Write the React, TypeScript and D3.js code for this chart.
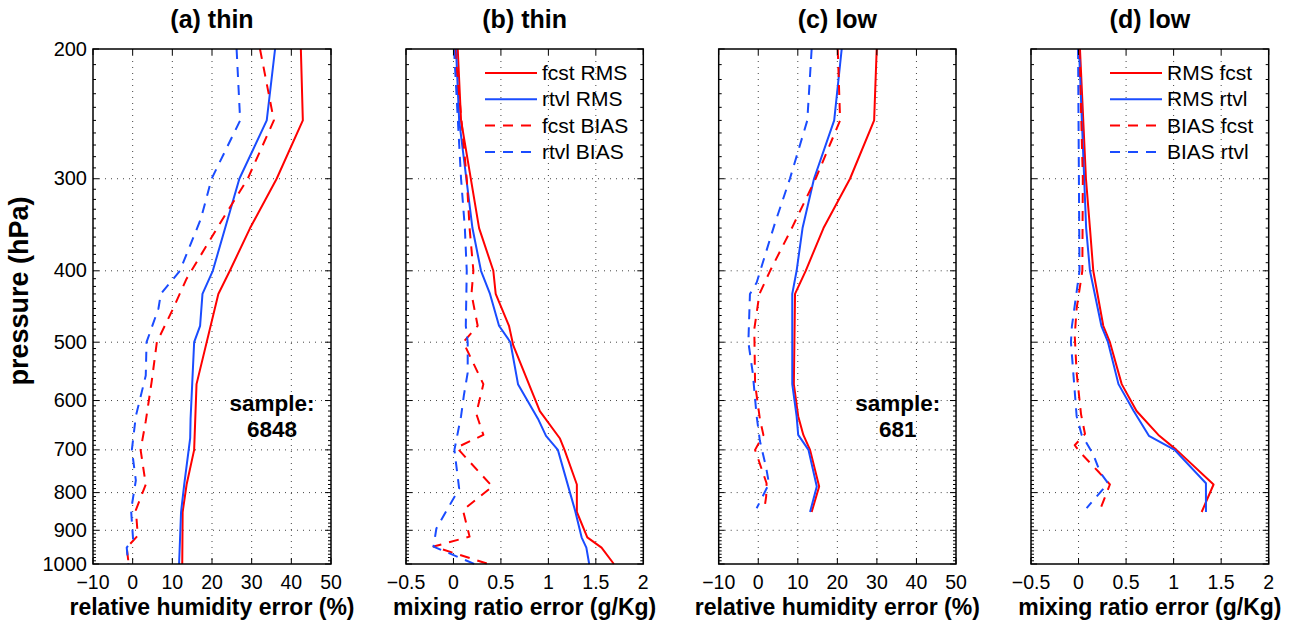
import React from "react";
import * as d3 from "d3";

type Pt = [number, number]; // [pressure hPa, value]

const pressureTicks = [200, 300, 400, 500, 600, 700, 800, 900, 1000];
const minorPressure = d3.range(210, 1000, 10).filter((p) => p % 100 !== 0);
const rhTicks = [-10, 0, 10, 20, 30, 40, 50];
const mrTicks = [-0.5, 0, 0.5, 1, 1.5, 2];
const titles = ["(a) thin", "(b) thin", "(c) low", "(d) low"];
const xLabels = [
  "relative humidity error (%)",
  "mixing ratio error (g/Kg)",
  "relative humidity error (%)",
  "mixing ratio error (g/Kg)",
];
const legendB = ["fcst RMS", "rtvl RMS", "fcst BIAS", "rtvl BIAS"];
const legendD = ["RMS fcst", "RMS rtvl", "BIAS fcst", "BIAS rtvl"];
const sampleA = "6848";
const sampleC = "681";

// (a) thin, relative humidity
const aFcstRms: Pt[] = [[200, 42.4], [250, 42.9], [300, 36.3], [350, 29.6], [400, 24.5], [430, 21.6], [570, 16.1], [700, 15.5], [780, 13.6], [850, 12.6], [1000, 12.5]];
const aRtvlRms: Pt[] = [[200, 35.9], [250, 33.8], [300, 26.9], [400, 20.2], [430, 17.6], [475, 17.0], [500, 15.5], [635, 14.6], [675, 14.5], [780, 13.0], [850, 12.2], [1000, 11.7]];
const aFcstBias: Pt[] = [[200, 32.1], [250, 35.6], [300, 29.0], [345, 22.0], [410, 13.6], [450, 10.2], [500, 6.1], [565, 4.8], [640, 3.3], [700, 2.0], [780, 3.3], [845, 0.8], [915, 1.3], [950, -1.5], [1000, -1.0]];
const aRtvlBias: Pt[] = [[200, 26.2], [250, 27.1], [300, 19.9], [340, 17.2], [400, 11.9], [430, 7.1], [450, 6.5], [500, 3.5], [555, 3.3], [630, 0.8], [700, -0.2], [770, 0.8], [845, -0.4], [925, 0.1], [950, -1.5], [1000, -1.1]];

// (b) thin, mixing ratio
const bFcstRms: Pt[] = [[200, 0.045], [250, 0.08], [350, 0.27], [400, 0.42], [430, 0.445], [475, 0.585], [505, 0.63], [620, 0.91], [675, 1.12], [700, 1.17], [780, 1.3], [850, 1.3], [920, 1.41], [950, 1.56], [1000, 1.69]];
const bRtvlRms: Pt[] = [[200, 0.027], [250, 0.06], [350, 0.2], [400, 0.29], [430, 0.385], [475, 0.48], [500, 0.6], [570, 0.68], [635, 0.89], [670, 0.975], [700, 1.1], [845, 1.28], [920, 1.35], [950, 1.4], [1000, 1.43]];
const bFcstBias: Pt[] = [[200, 0.016], [300, 0.14], [350, 0.17], [400, 0.21], [430, 0.19], [475, 0.255], [500, 0.104], [570, 0.315], [625, 0.24], [668, 0.315], [695, 0.034], [785, 0.41], [845, 0.1], [918, 0.17], [947, -0.21], [1000, 0.37]];
const bRtvlBias: Pt[] = [[200, 0.006], [300, 0.08], [350, 0.12], [400, 0.14], [475, 0.13], [500, 0.15], [550, 0.15], [590, 0.11], [630, 0.08], [700, 0.01], [790, 0.06], [895, -0.18], [947, -0.21], [1000, 0.22]];

// (c) low, relative humidity
const cFcstRms: Pt[] = [[200, 29.95], [250, 29.3], [300, 23.2], [350, 16.5], [400, 12.0], [430, 9.3], [570, 9.0], [630, 10.1], [668, 11.4], [700, 13.1], [785, 15.4], [850, 13.5]];
const cRtvlRms: Pt[] = [[200, 21.1], [250, 19.2], [300, 14.1], [350, 11.2], [400, 9.7], [430, 8.6], [570, 8.6], [630, 9.7], [668, 10.1], [700, 12.7], [785, 14.8], [850, 13.1]];
const cFcstBias: Pt[] = [[200, 20.1], [250, 20.7], [300, 14.5], [350, 8.5], [400, 3.0], [430, 0.3], [480, -1.0], [570, -0.8], [635, 0.4], [668, 1.3], [700, -0.8], [777, 2.1], [810, 2.0], [845, 1.5]];
const cRtvlBias: Pt[] = [[200, 13.5], [250, 12.4], [300, 8.0], [345, 4.2], [415, -0.4], [430, -2.1], [500, -2.5], [550, -1.4], [630, -0.4], [680, 0.4], [740, 2.0], [777, 2.7], [790, 2.1], [840, -0.4]];

// (d) low, mixing ratio
const dFcstRms: Pt[] = [[200, 0.015], [300, 0.078], [350, 0.12], [400, 0.155], [475, 0.26], [500, 0.33], [570, 0.454], [620, 0.61], [668, 0.84], [700, 1.03], [780, 1.42], [850, 1.295]];
const dRtvlRms: Pt[] = [[200, 0.005], [350, 0.08], [400, 0.12], [475, 0.24], [500, 0.31], [570, 0.42], [620, 0.58], [670, 0.74], [700, 1.01], [777, 1.34], [850, 1.34]];
const dFcstBias: Pt[] = [[200, 0.01], [300, 0.045], [400, 0.04], [450, -0.02], [490, -0.04], [550, -0.02], [626, 0.026], [666, 0.068], [690, -0.04], [705, 0.015], [752, 0.22], [780, 0.33], [845, 0.225]];
const dRtvlBias: Pt[] = [[200, -0.005], [400, 0.01], [476, -0.07], [500, -0.08], [630, -0.02], [668, 0.033], [710, 0.155], [750, 0.225], [777, 0.31], [840, 0.085]];

const RED = "#ff0000";
const BLUE = "#1a4cff";
const FONT = "'Liberation Sans', Arial, Helvetica, sans-serif";
const styles = [
  { color: RED, dash: undefined as string | undefined },
  { color: BLUE, dash: undefined as string | undefined },
  { color: RED, dash: "10,8" },
  { color: BLUE, dash: "10,8" },
];

const TOP = 49;
const BOTTOM = 564;
const yScale = d3.scaleLog().domain([200, 1000]).range([TOP, BOTTOM]);

const fmt = (v: number) => (v < 0 ? "\u2212" + String(-v) : String(v));

type PanelProps = {
  left: number;
  right: number;
  domain: [number, number];
  ticks: number[];
  title: string;
  xLabel: string;
  series: Pt[][];
  yLabels: boolean;
  legend?: string[];
  sample?: string;
};

function Panel({ left, right, domain, ticks, title, xLabel, series, yLabels, legend, sample }: PanelProps) {
  const x = d3.scaleLinear().domain(domain).range([left, right]);
  const line = d3
    .line<Pt>()
    .x((d) => x(d[1]))
    .y((d) => yScale(d[0]));
  const cx = (left + right) / 2;
  const tl = 6;
  return (
    <g>
      {/* grid */}
      {ticks.slice(1, -1).map((t) => (
        <line key={"gx" + t} x1={x(t)} x2={x(t)} y1={TOP} y2={BOTTOM} stroke="#444" strokeWidth={1} strokeDasharray="1,5" />
      ))}
      {pressureTicks.slice(1, -1).map((p) => (
        <line key={"gy" + p} x1={left} x2={right} y1={yScale(p)} y2={yScale(p)} stroke="#444" strokeWidth={1} strokeDasharray="1,5" />
      ))}
      {/* data */}
      {series.map((s, i) => (
        <path
          key={"s" + i}
          d={line(s) || ""}
          fill="none"
          stroke={styles[i].color}
          strokeWidth={2}
          strokeDasharray={styles[i].dash}
          strokeLinejoin="round"
        />
      ))}
      {/* frame */}
      <rect x={left} y={TOP} width={right - left} height={BOTTOM - TOP} fill="none" stroke="#000" strokeWidth={1.5} />
      {/* x ticks */}
      {ticks.map((t) => (
        <g key={"xt" + t}>
          <line x1={x(t)} x2={x(t)} y1={BOTTOM} y2={BOTTOM - tl} stroke="#000" strokeWidth={1} />
          <line x1={x(t)} x2={x(t)} y1={TOP} y2={TOP + tl} stroke="#000" strokeWidth={1} />
          <text x={x(t)} y={589} textAnchor="middle" fontSize={19.5} fontFamily={FONT}>
            {fmt(t)}
          </text>
        </g>
      ))}
      {/* y ticks */}
      {pressureTicks.map((p) => (
        <g key={"yt" + p}>
          <line x1={left} x2={left + tl} y1={yScale(p)} y2={yScale(p)} stroke="#000" strokeWidth={1} />
          <line x1={right} x2={right - tl} y1={yScale(p)} y2={yScale(p)} stroke="#000" strokeWidth={1} />
          {yLabels && (
            <text x={left - 6} y={yScale(p) + 6.5} textAnchor="end" fontSize={20} fontFamily={FONT}>
              {p}
            </text>
          )}
        </g>
      ))}
      {minorPressure.map((p) => (
        <g key={"ym" + p}>
          <line x1={left} x2={left + 3} y1={yScale(p)} y2={yScale(p)} stroke="#000" strokeWidth={1} />
          <line x1={right} x2={right - 3} y1={yScale(p)} y2={yScale(p)} stroke="#000" strokeWidth={1} />
        </g>
      ))}
      <text x={cx} y={28} textAnchor="middle" fontSize={25} fontWeight="bold" fontFamily={FONT}>
        {title}
      </text>
      <text x={cx} y={615} textAnchor="middle" fontSize={23} fontWeight="bold" fontFamily={FONT}>
        {xLabel}
      </text>
      {legend &&
        legend.map((lab, i) => {
          const ly = 73 + i * 26.3;
          return (
            <g key={"lg" + i}>
              <line x1={left + 79} x2={left + 131} y1={ly} y2={ly} stroke={styles[i].color} strokeWidth={2} strokeDasharray={styles[i].dash} />
              <text x={left + 136} y={ly + 7} fontSize={21} fontFamily={FONT}>
                {lab}
              </text>
            </g>
          );
        })}
      {sample && (
        <g>
          <text x={left + 179} y={411} textAnchor="middle" fontSize={22.5} fontWeight="bold" fontFamily={FONT}>
            sample:
          </text>
          <text x={left + 179} y={436.5} textAnchor="middle" fontSize={22.5} fontWeight="bold" fontFamily={FONT}>
            {sample}
          </text>
        </g>
      )}
    </g>
  );
}

export default function App() {
  return (
    <svg
      width={1300}
      height={620}
      style={{ position: "absolute", left: 0, top: 0, background: "#fff" }}
    >
      <rect x={0} y={0} width={1300} height={620} fill="#fff" />
      <Panel left={93} right={331} domain={[-10, 50]} ticks={rhTicks} title={titles[0]} xLabel={xLabels[0]} series={[aFcstRms, aRtvlRms, aFcstBias, aRtvlBias]} yLabels={true} sample={sampleA} />
      <Panel left={406} right={643.3} domain={[-0.5, 2]} ticks={mrTicks} title={titles[1]} xLabel={xLabels[1]} series={[bFcstRms, bRtvlRms, bFcstBias, bRtvlBias]} yLabels={false} legend={legendB} />
      <Panel left={718.7} right={956} domain={[-10, 50]} ticks={rhTicks} title={titles[2]} xLabel={xLabels[2]} series={[cFcstRms, cRtvlRms, cFcstBias, cRtvlBias]} yLabels={false} sample={sampleC} />
      <Panel left={1031} right={1268.7} domain={[-0.5, 2]} ticks={mrTicks} title={titles[3]} xLabel={xLabels[3]} series={[dFcstRms, dRtvlRms, dFcstBias, dRtvlBias]} yLabels={false} legend={legendD} />
      <text
        transform="translate(28, 291) rotate(-90)"
        textAnchor="middle"
        fontSize={27}
        fontWeight="bold"
        fontFamily={FONT}
      >
        pressure (hPa)
      </text>
    </svg>
  );
}
